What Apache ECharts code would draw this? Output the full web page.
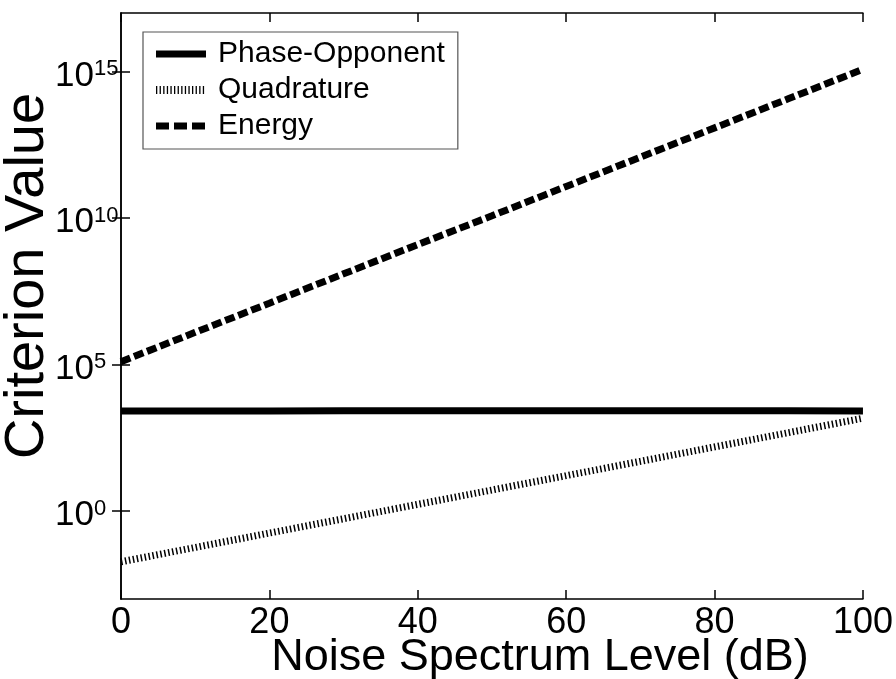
<!DOCTYPE html>
<html>
<head>
<meta charset="utf-8">
<title>Criterion Value vs Noise Spectrum Level</title>
<script src="https://cdn.jsdelivr.net/npm/echarts@6/dist/echarts.min.js"></script>
<style>
  html, body { margin: 0; padding: 0; background: #ffffff; }
  #chart { width: 896px; height: 679px; }
</style>
</head>
<body>
<div id="chart"></div>
<script>
// Noise spectrum level (dB) at which each criterion was evaluated
var noiseLevels = [0, 10, 20, 30, 40, 50, 60, 70, 80, 90, 100];

// Criterion values per model
var phaseOpponent = [2600, 2600, 2600, 2650, 2650, 2650, 2650, 2650, 2650, 2650, 2600];
var quadrature = [0.0186, 0.0575, 0.178, 0.55, 1.7, 5.25, 16.2, 50, 155, 479, 1480];
var energy = [1.26e5, 1.26e6, 1.25e7, 1.25e8, 1.25e9, 1.2e10, 1.2e11, 1.2e12, 1.2e13, 1.2e14, 1.2e15];

// Axis ticks
var xTicks = [0, 20, 40, 60, 80, 100];
var yTicks = [1, 1e5, 1e10, 1e15];

var seriesNames = ['Phase-Opponent', 'Quadrature', 'Energy'];

var FONT = "'Liberation Sans', Arial, Helvetica, sans-serif";

function pairs(xs, ys) {
  return xs.map(function (x, i) { return [x, ys[i]]; });
}

function powerLabel(v) {
  var e = Math.round(Math.log10(v));
  return '{b|10}{s|' + e + '}';
}

// Stroke styles in the plot area
var lineStyles = [
  { color: '#000', width: 7, type: 'solid' },
  { color: '#000', width: 7, type: [1.5, 2.5] },
  { color: '#000', width: 7, type: [10, 4] }
];

// Stroke styles for the legend samples
var legendLineStyles = [
  { color: '#000', width: 7, type: 'solid', opacity: 1 },
  { color: '#000', width: 8, type: [1.3, 2.3], opacity: 1 },
  { color: '#000', width: 7, type: [13, 5], opacity: 1 }
];

var chart = echarts.init(document.getElementById('chart'), null, { renderer: 'canvas' });

var frameLine = { show: true, lineStyle: { color: '#000', width: 1.5 } };
var tickStyle = { color: '#000', width: 1.5 };

chart.setOption({
  animation: false,
  backgroundColor: '#ffffff',
  textStyle: { fontFamily: FONT, color: '#000' },
  grid: { left: 121, top: 13, right: 30, bottom: 80, containLabel: false },
  xAxis: [
    {
      type: 'value', position: 'bottom', min: 0, max: 100,
      axisLine: frameLine,
      axisTick: { show: true, inside: true, length: 9, customValues: xTicks, lineStyle: tickStyle },
      axisLabel: { show: true, customValues: xTicks, fontSize: 36, color: '#000', fontFamily: FONT, margin: 6 },
      splitLine: { show: false }
    },
    {
      type: 'value', position: 'top', min: 0, max: 100,
      axisLine: frameLine,
      axisTick: { show: true, inside: true, length: 9, customValues: xTicks, lineStyle: tickStyle },
      axisLabel: { show: false },
      splitLine: { show: false }
    }
  ],
  yAxis: [
    {
      type: 'log', logBase: 10, position: 'left', min: 1e-3, max: 1e17,
      axisLine: frameLine,
      axisTick: { show: true, inside: true, length: 9, customValues: yTicks, lineStyle: tickStyle },
      axisLabel: {
        show: true, customValues: yTicks, margin: 66, align: 'left', color: '#000',
        padding: [9, 0, 0, 0],
        formatter: powerLabel,
        rich: {
          b: { fontSize: 35, fontFamily: FONT, color: '#000', lineHeight: 36 },
          s: { fontSize: 22, fontFamily: FONT, color: '#000', lineHeight: 22, verticalAlign: 'top' }
        }
      },
      splitLine: { show: false }
    },
    {
      type: 'log', logBase: 10, position: 'right', min: 1e-3, max: 1e17,
      axisLine: frameLine,
      axisTick: { show: true, inside: true, length: 9, customValues: yTicks, lineStyle: tickStyle },
      axisLabel: { show: false },
      splitLine: { show: false }
    }
  ],
  legend: {
    orient: 'vertical',
    left: 143, top: 32,
    padding: [7, 13, 8, 9],
    itemGap: 6,
    itemWidth: 50, itemHeight: 14,
    borderColor: '#555', borderWidth: 1.2,
    backgroundColor: '#fff',
    textStyle: { fontSize: 30, fontFamily: FONT, color: '#000', lineHeight: 30, padding: [0, 0, 0, 7] },
    data: seriesNames.map(function (n, i) {
      return { name: n, lineStyle: legendLineStyles[i], itemStyle: { opacity: 0 } };
    })
  },
  series: [
    { name: seriesNames[0], type: 'line', data: pairs(noiseLevels, phaseOpponent), lineStyle: lineStyles[0] },
    { name: seriesNames[1], type: 'line', data: pairs(noiseLevels, quadrature), lineStyle: lineStyles[1] },
    { name: seriesNames[2], type: 'line', data: pairs(noiseLevels, energy), lineStyle: lineStyles[2] }
  ].map(function (s) {
    s.symbol = 'none';
    s.showSymbol = false;
    s.xAxisIndex = 0;
    s.yAxisIndex = 0;
    s.itemStyle = { color: '#000' };
    s.z = 3;
    return s;
  }),
  graphic: [
    {
      type: 'text', x: 540, y: 658,
      style: { text: 'Noise Spectrum Level (dB)', fontSize: 45, fontFamily: FONT, fill: '#000', align: 'center', verticalAlign: 'middle' }
    },
    {
      type: 'text', x: 28, y: 276, rotation: Math.PI / 2,
      style: { text: 'Criterion Value', fontSize: 56, fontFamily: FONT, fill: '#000', align: 'center', verticalAlign: 'middle' }
    }
  ]
});
</script>
</body>
</html>
